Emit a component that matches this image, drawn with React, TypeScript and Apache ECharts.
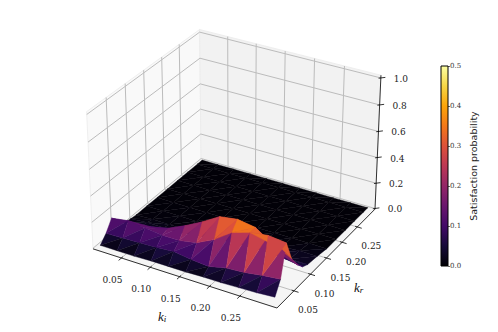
import React, { useEffect, useRef } from "react";
import * as echarts from "echarts";

const kiGrid = [0.005, 0.0345, 0.064, 0.0935, 0.123, 0.1525, 0.182, 0.2115, 0.241, 0.2705, 0.3];
const krGrid = [0.012, 0.028, 0.044, 0.06, 0.08, 0.095, 0.11, 0.14, 0.17, 0.2, 0.23, 0.26, 0.29, 0.305];
const row0 = [0.0, 0.0, 0.0, 0.005, 0.005, 0.005, 0.01, 0.01, 0.015, 0.02, 0.03];
const row1 = [0.055, 0.06, 0.065, 0.07, 0.08, 0.06, 0.05, 0.08, 0.09, 0.11, 0.125];
const row2 = [0.135, 0.155, 0.14, 0.125, 0.125, 0.15, 0.215, 0.31, 0.35, 0.37, 0.355];
const row3 = [0.08, 0.09, 0.11, 0.14, 0.2, 0.27, 0.35, 0.37, 0.35, 0.26, 0.2];
const row4 = [0.02, 0.03, 0.05, 0.07, 0.1, 0.14, 0.16, 0.17, 0.18, 0.14, 0.1];
const row5 = [0.01, 0.02, 0.02, 0.03, 0.04, 0.06, 0.07, 0.08, 0.08, 0.07, 0.05];
const row6 = [0.005, 0.01, 0.01, 0.01, 0.02, 0.02, 0.03, 0.03, 0.03, 0.03, 0.03];
const row7 = [0.005, 0.005, 0.005, 0.005, 0.01, 0.01, 0.01, 0.01, 0.01, 0.02, 0.02];
const rowRest = [0.004, 0.004, 0.004, 0.004, 0.004, 0.004, 0.004, 0.004, 0.004, 0.004, 0.004];
const zRows = [row0, row1, row2, row3, row4, row5, row6, row7, rowRest, rowRest, rowRest, rowRest, rowRest, rowRest];

const xTicks = [0.05, 0.1, 0.15, 0.2, 0.25];
const yTicks = [0.05, 0.1, 0.15, 0.2, 0.25];
const zTicks = [0, 0.2, 0.4, 0.6, 0.8, 1];
const cbarMax = 0.5;
const cbarTicks = 0.1;
const inferno = ["#000004", "#160b39", "#420a68", "#6a176e", "#932667", "#bc3754", "#dd513a", "#f37819", "#fca50a", "#f6d746", "#fcffa4"];

const XLIM = [0.0, 0.31];
const YLIM = [0.0, 0.31];
const ZLIM = [-0.005, 1.02];

// matplotlib-style perspective camera (elev 30, azim -60)
const norm = Math.sqrt(41);
const ASPECT = [(4 / norm) * 1.83, (4 / norm) * 1.83, (3 / norm) * 1.83];
const el = (30 * Math.PI) / 180;
const az = (-60 * Math.PI) / 180;
const W = [Math.cos(el) * Math.cos(az), Math.cos(el) * Math.sin(az), Math.sin(el)];
const U = (() => {
  const u = [-W[1], W[0], 0];
  const l = Math.hypot(u[0], u[1]);
  return [u[0] / l, u[1] / l, 0];
})();
const V = [W[1] * U[2] - W[2] * U[1], W[2] * U[0] - W[0] * U[2], W[0] * U[1] - W[1] * U[0]];
const CEN = ASPECT.map((a) => a / 2);
const EYE = CEN.map((c, i) => c + 10 * W[i]);

function cam(f: number[]) {
  const p = [f[0] * ASPECT[0] - EYE[0], f[1] * ASPECT[1] - EYE[1], f[2] * ASPECT[2] - EYE[2]];
  const zc = -(W[0] * p[0] + W[1] * p[1] + W[2] * p[2]);
  return [
    (U[0] * p[0] + U[1] * p[1] + U[2] * p[2]) / zc,
    (V[0] * p[0] + V[1] * p[1] + V[2] * p[2]) / zc,
    zc,
  ];
}
const cL = cam([0, 0, 0]);
const cR = cam([1, 1, 0]);
const cT = cam([0, 1, 1]);
const cB = cam([1, 0, 0]);
const sx = (375 - 93) / (cR[0] - cL[0]);
const tx = 93 - sx * cL[0];
const sy = (308 - 29.5) / (cB[1] - cT[1]);
const ty = 29.5 - sy * cT[1];

function fpx(f: number[]) {
  const c = cam(f);
  return [sx * c[0] + tx, sy * c[1] + ty];
}
const fx = (v: number) => (v - XLIM[0]) / (XLIM[1] - XLIM[0]);
const fy = (v: number) => (v - YLIM[0]) / (YLIM[1] - YLIM[0]);
const fz = (v: number) => (v - ZLIM[0]) / (ZLIM[1] - ZLIM[0]);

function infernoAt(v: number) {
  const t = Math.max(0, Math.min(1, v / cbarMax)) * (inferno.length - 1);
  const i = Math.min(inferno.length - 2, Math.floor(t));
  const a = inferno[i];
  const b = inferno[i + 1];
  const f = t - i;
  const ch = (s: string, k: number) => parseInt(s.slice(1 + 2 * k, 3 + 2 * k), 16);
  const c = [0, 1, 2].map((k) => Math.round(ch(a, k) + (ch(b, k) - ch(a, k)) * f));
  return `rgb(${c[0]},${c[1]},${c[2]})`;
}

function buildTriangles() {
  const tris: { value: number[]; depth: number }[] = [];
  const push = (a: number[], b: number[], c: number[]) => {
    const fa = [fx(a[0]), fy(a[1]), fz(a[2])];
    const fb = [fx(b[0]), fy(b[1]), fz(b[2])];
    const fc = [fx(c[0]), fy(c[1]), fz(c[2])];
    const depth = (cam(fa)[2] + cam(fb)[2] + cam(fc)[2]) / 3;
    tris.push({ value: [...fa, ...fb, ...fc, (a[2] + b[2] + c[2]) / 3], depth });
  };
  for (let r = 0; r < krGrid.length - 1; r++) {
    for (let i = 0; i < kiGrid.length - 1; i++) {
      const p = (rr: number, ii: number) => [kiGrid[ii], krGrid[rr], zRows[rr][ii]];
      push(p(r, i), p(r, i + 1), p(r + 1, i + 1));
      push(p(r, i), p(r + 1, i + 1), p(r + 1, i));
    }
  }
  tris.sort((a, b) => b.depth - a.depth);
  return tris.map((t) => t.value);
}

const GRID = "#bcbcbc";
function buildLines() {
  const l: number[][] = [];
  const gridFlag = 0;
  const axisFlag = 1;
  const add = (a: number[], b: number[], flag: number) => l.push([...a, ...b, flag]);
  for (const t of xTicks) {
    const x = fx(t);
    add([x, 0, 0], [x, 1, 0], gridFlag);
    add([x, 1, 0], [x, 1, 1], gridFlag);
    add([x, 0.012, 0], [x, -0.024, 0], axisFlag);
  }
  for (const t of yTicks) {
    const y = fy(t);
    add([0, y, 0], [1, y, 0], gridFlag);
    add([0, y, 0], [0, y, 1], gridFlag);
    add([0.988, y, 0], [1.024, y, 0], axisFlag);
  }
  for (const t of zTicks) {
    const z = fz(t);
    add([0, 0, z], [0, 1, z], gridFlag);
    add([0, 1, z], [1, 1, z], gridFlag);
    add([1 - 0.008, 1 - 0.008, z], [1 + 0.016, 1 + 0.016, z], axisFlag);
  }
  add([0, 0, 0], [1, 0, 0], axisFlag);
  add([1, 0, 0], [1, 1, 0], axisFlag);
  add([1, 1, 0], [1, 1, 1], axisFlag);
  return l;
}

const panes = [
  { corners: [[0, 0, 0], [1, 0, 0], [1, 1, 0], [0, 1, 0]], fill: "#f5f5f5" },
  { corners: [[0, 0, 0], [0, 1, 0], [0, 1, 1], [0, 0, 1]], fill: "#f9f9f9" },
  { corners: [[0, 1, 0], [1, 1, 0], [1, 1, 1], [0, 1, 1]], fill: "#f2f2f2" },
];

const LABEL_FONT = "DejaVu Serif";
const ITALIC_FONT = "Liberation Serif";

function tickLabelData() {
  const out: { value: number[]; name: string }[] = [];
  for (const t of xTicks) {
    const p = fpx([fx(t), 0, 0]);
    out.push({ value: [p[0] - 9, p[1] + 22], name: t.toFixed(2) });
  }
  for (const t of yTicks) {
    const p = fpx([1, fy(t), 0]);
    out.push({ value: [p[0] + 14, p[1] + 19.5], name: t.toFixed(2) });
  }
  for (const t of zTicks) {
    const p = fpx([1, 1, fz(t)]);
    out.push({ value: [p[0] + 20, p[1] + 1], name: t.toFixed(1) });
  }
  return out;
}

const subscript = (letter: string) => ({
  text: `{k|k}{s|${letter}}`,
  rich: {
    k: { fontFamily: ITALIC_FONT, fontStyle: "italic", fontSize: 13, fill: "#111" },
    s: { fontFamily: ITALIC_FONT, fontStyle: "italic", fontSize: 9, fill: "#111", verticalAlign: "bottom" },
  },
});

export default function App() {
  const ref = useRef<HTMLDivElement>(null);
  useEffect(() => {
    const chart = echarts.init(ref.current!, undefined, { renderer: "svg" });
    const labels = tickLabelData();
    chart.setOption({
      animation: false,
      backgroundColor: "#ffffff",
      grid: {
        left: 441,
        top: 66,
        width: 7,
        height: 200,
        show: true,
        borderColor: "#000",
        borderWidth: 1,
        z: 5,
      },
      xAxis: { type: "category", data: ["p"], show: false },
      yAxis: {
        type: "value",
        position: "right",
        min: 0,
        max: cbarMax,
        interval: cbarTicks,
        splitLine: { show: false },
        axisLine: { show: false },
        axisTick: { show: true, length: 2, lineStyle: { color: "#000", width: 0.6 } },
        axisLabel: {
          fontFamily: LABEL_FONT,
          fontSize: 7,
          color: "#333",
          margin: 2,
          formatter: (v: number) => v.toFixed(1),
        },
        name: "Satisfaction probability",
        nameLocation: "middle",
        nameRotate: 90,
        nameGap: 20,
        nameTextStyle: { fontFamily: "DejaVu Sans", fontSize: 9.5, color: "#222" },
      },
      graphic: [
        { type: "text", x: 158, y: 310, style: subscript("i") },
        { type: "text", x: 354, y: 281, style: subscript("r") },
      ],
      series: [
        {
          type: "bar",
          data: [cbarMax],
          barWidth: "100%",
          silent: true,
          itemStyle: {
            color: {
              type: "linear",
              x: 0,
              y: 1,
              x2: 0,
              y2: 0,
              colorStops: inferno.map((c, i) => ({ offset: i / (inferno.length - 1), color: c })),
            },
          },
        },
        {
          type: "custom",
          coordinateSystem: "none",
          silent: true,
          z: 1,
          data: panes.map((_, i) => [i]),
          renderItem: (_p: any, api: any) => {
            const pane = panes[api.value(0)];
            return {
              type: "polygon",
              shape: { points: pane.corners.map(fpx) },
              style: { fill: pane.fill, stroke: "#ebebeb", lineWidth: 0.8 },
            };
          },
        },
        {
          type: "custom",
          coordinateSystem: "none",
          silent: true,
          z: 2,
          data: buildLines(),
          renderItem: (_p: any, api: any) => {
            const a = fpx([api.value(0), api.value(1), api.value(2)]);
            const b = fpx([api.value(3), api.value(4), api.value(5)]);
            const isAxis = api.value(6) === 1;
            return {
              type: "line",
              shape: { x1: a[0], y1: a[1], x2: b[0], y2: b[1] },
              style: { stroke: isAxis ? "#000" : GRID, lineWidth: isAxis ? 0.8 : 1 },
            };
          },
        },
        {
          type: "custom",
          coordinateSystem: "none",
          silent: true,
          z: 3,
          data: buildTriangles(),
          renderItem: (_p: any, api: any) => {
            const pts = [0, 3, 6].map((k) => fpx([api.value(k), api.value(k + 1), api.value(k + 2)]));
            const color = infernoAt(api.value(9));
            return {
              type: "polygon",
              shape: { points: pts },
              style: { fill: color, stroke: color, lineWidth: 0.4 },
            };
          },
        },
        {
          type: "custom",
          coordinateSystem: "none",
          silent: true,
          z: 4,
          data: labels.map((l) => l.value),
          renderItem: (params: any, api: any) => ({
            type: "text",
            x: api.value(0),
            y: api.value(1),
            style: {
              text: labels[params.dataIndex].name,
              font: `9px "${LABEL_FONT}"`,
              fill: "#222",
              align: "center",
              verticalAlign: "middle",
            },
          }),
        },
      ],
    });
    return () => chart.dispose();
  }, []);
  return <div ref={ref} style={{ width: 498, height: 332, position: "fixed", left: 0, top: 0 }} />;
}
